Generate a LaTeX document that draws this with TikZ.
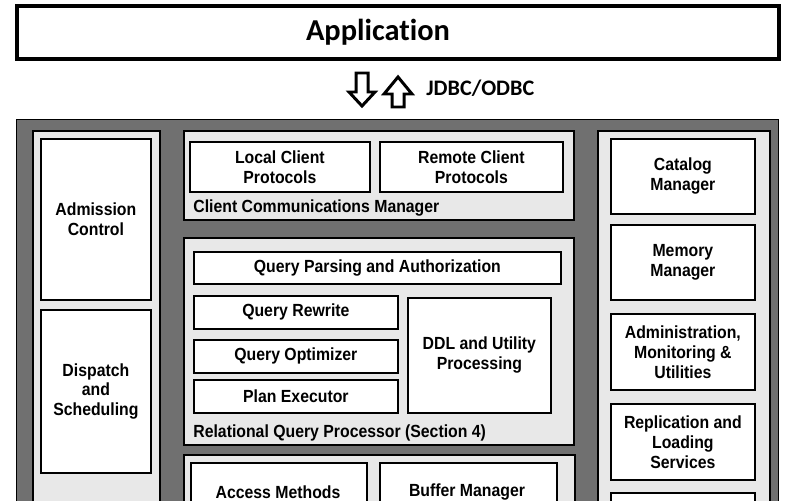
\documentclass[tikz,border=0pt]{standalone}
\usepackage{fontspec}
\setmainfont{Liberation Sans}[FakeStretch=0.9]
\newfontfamily\calfont{Carlito}[Ligatures={NoCommon,NoContextual}]
\begin{document}
\begin{tikzpicture}[x=0.02cm, y=-0.02cm,
    wh/.style 2 args={minimum width=#1*0.02cm, minimum height=#2*0.02cm}]
    \tikzstyle{frame}=[draw=black, line width=0.8pt, fill=black!56, inner sep=0pt, anchor=north west]
    \tikzstyle{panel}=[draw=black, line width=1pt, fill=black!9, inner sep=0pt, anchor=north west]
    \tikzstyle{unit}=[draw=black, line width=1pt, fill=white, align=center, inner sep=0pt, anchor=north west, font=\bfseries\fontsize{10}{11.3}\selectfont]
    \tikzstyle{caption}=[anchor=west, inner sep=0pt, font=\bfseries\fontsize{10}{11.3}\selectfont]
    \tikzstyle{bigarrow}=[draw=black, line width=1.7pt, fill=white, line join=miter]

    \useasboundingbox (0,0) rectangle (800,500);
    \clip (0,0) rectangle (800,500);
    \fill[white] (0,0) rectangle (800,500);

    % application on top
    \node[draw=black, line width=2.3pt, fill=white, wh={762}{53}, inner sep=0pt] at (398,32.5) (app) {};
    \node[inner sep=0pt, font=\calfont\bfseries\fontsize{17.3}{20}\selectfont] at (378,32) (apptext) {Applicat\kern0pt ion};

    \draw[bigarrow] (356,73) -- (368,73) -- (368,92) -- (375,92) -- (362,106) -- (349,92) -- (356,92) -- cycle;
    \draw[bigarrow] (392,107) -- (404,107) -- (404,94) -- (412,94) -- (398,77) -- (384,94) -- (392,94) -- cycle;
    \node[anchor=west, inner sep=0pt, font=\calfont\bfseries\fontsize{12.6}{15}\selectfont] at (426,88) (jdbc) {JDBC/ODBC};

    % dbms frame
    \node[frame, wh={762}{400}] at (16,119) (dbms) {};

    % process manager (left)
    \node[panel, wh={127}{380}] at (32,130) (procmgr) {};
    \node[unit, wh={110}{161}] at (40,138) (admission) {Admission\\Control};
    \node[unit, wh={110}{163}] at (40,309) (dispatch) {Dispatch\\and\\Scheduling};

    % client communications manager
    \node[panel, wh={390}{89}] at (183,130) (ccm) {};
    \node[unit, wh={180}{50}] at (189,141) (local) {Local Client\\Protocols};
    \node[unit, wh={183}{50}] at (379,141) (remote) {Remote Client\\Protocols};
    \node[caption] at (193,208) (ccmlabel) {Client Communications Manager};

    % relational query processor
    \node[panel, wh={390}{207}] at (183,237) (rqp) {};
    \node[unit, wh={367}{32}] at (193,251) (parsing) {Query Parsing and Authorization};
    \node[unit, wh={204}{33}] at (193,295) (rewrite) {Query Rewrite};
    \node[unit, wh={204}{33}] at (193,339) (optimizer) {Query Optimizer};
    \node[unit, wh={204}{33}] at (193,379) (executor) {Plan Executor};
    \node[unit, wh={143}{115}] at (407,297) (ddl) {DDL and Utility\\Processing};
    \node[caption] at (193,433) (rqplabel) {Relational Query Processor (Section 4)};

    % storage manager (runs off the bottom)
    \node[panel, wh={391}{80}] at (183,454) (storage) {};
    \node[unit, wh={176}{80}] at (190,462) (access) {};
    \node[unit, wh={177}{80}] at (379,462) (buffer) {};
    \node[inner sep=0pt, font=\bfseries\fontsize{10}{11.3}\selectfont] at (278,492) (accesstext) {Access Methods};
    \node[inner sep=0pt, font=\bfseries\fontsize{10}{11.3}\selectfont] at (467,492) (buffertext) {Buffer Manager};

    % shared components (right)
    \node[panel, wh={172}{380}] at (597,130) (shared) {};
    \node[unit, wh={144}{75}] at (610,138) (catalog) {Catalog\\Manager};
    \node[unit, wh={144}{75}] at (610,224) (memory) {Memory\\Manager};
    \node[unit, wh={144}{76}] at (610,313) (admin) {Administration,\\Monitoring \&\\Utilities};
    \node[unit, wh={144}{76}] at (610,403) (replication) {Replication and\\Loading\\Services};
    \node[unit, wh={144}{75}] at (610,492) (batch) {};
\end{tikzpicture}
\end{document}
